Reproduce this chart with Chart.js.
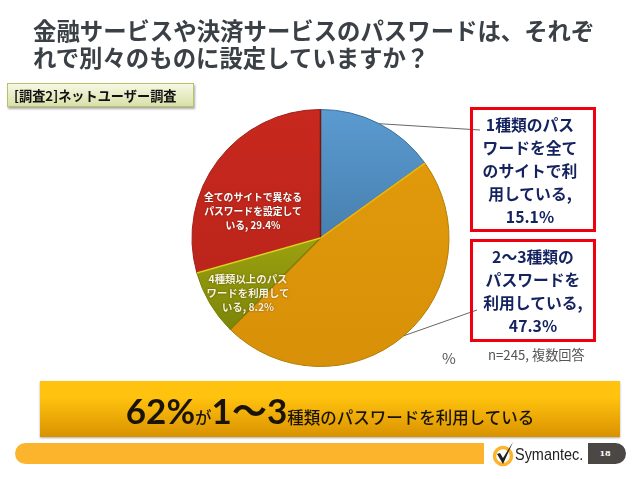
<!DOCTYPE html>
<html lang="ja">
<head>
<meta charset="utf-8">
<title>パスワード調査</title>
<script src="https://cdn.jsdelivr.net/npm/chart.js@4/dist/chart.umd.min.js"></script>
<style>
  html, body { margin: 0; padding: 0; background: #fff; }
  body { position: relative; width: 640px; height: 479px; overflow: hidden;
         font-family: "Noto Sans CJK JP", "Noto Sans", sans-serif; }
  #chart { position: absolute; left: 0; top: 0; }
  .abs { position: absolute; white-space: pre; }
  #title { left: 33px; top: 17px; font-size: 23.4px; line-height: 27px; color: #3a4046; font-weight: 700; }
  #tag { left: 7px; top: 83px; width: 187px; height: 24px; line-height: 23px; box-sizing: border-box; padding-left: 6px;
         font-size: 13.2px; font-weight: 700; color: #111; border: 1px solid #b9c26a;
         background: linear-gradient(#f7f8e4, #d9e0a8); box-shadow: 1px 2px 2px #aaa; }
  .callout { box-sizing: border-box; border: 3px solid #f0000f; text-align: center;
             color: #14235f; font-weight: 700; font-size: 15.8px; line-height: 23px; left: 470px; width: 126px; }
  #callout0 { top: 107px; height: 125px; padding-top: 3px; padding-right: 6px; }
  #callout1 { top: 239px; height: 103px; padding-top: 3px; }
  .inner { text-align: center; color: #fff; font-weight: 700; font-size: 9.8px; line-height: 14px; text-shadow: 0 0 2px rgba(60,30,0,.6); }
  #inner3 { left: 193px; width: 120px; top: 190px; }
  #inner2 { left: 188px; width: 120px; top: 272px; color: #f6f4dc; font-size: 10.4px; }
  #unit { left: 442px; top: 347px; font-size: 15px; color: #555; }
  #note { left: 488px; top: 345px; font-size: 13.2px; color: #555; }
  #banner { left: 40px; top: 381px; width: 580px; height: 56px; text-align: center; line-height: 58px;
            background: linear-gradient(#ffc20e 30%, #d99200); box-shadow: 0 1px 2px #aaa; color: #1a1408; font-size: 16.5px; font-weight: 500; }
  #banner b { font-size: 35px; font-weight: 700; font-family: Lato, "Noto Sans CJK JP", sans-serif; }
  #bar { left: 15px; top: 443px; width: 469px; height: 21px; background: #fbb42c; border-radius: 11px 0 0 11px; }
  #logo { left: 492px; top: 441px; }
  #brand { left: 515px; top: 445px; font-size: 17px; line-height: 20px; color: #222; font-family: "Liberation Sans Narrow", "Liberation Sans", sans-serif; transform: scaleX(.85); transform-origin: left; }
  #page { left: 588px; top: 443px; width: 38px; height: 21px; line-height: 21px; background: #4a4745; color: #fff; text-align: center;
          border-radius: 0 11px 11px 0; font-size: 8px; font-weight: 700; font-family: "DejaVu Serif", serif; padding-right: 4px; box-sizing: border-box; }
</style>
</head>
<body>
<canvas id="chart" width="640" height="479"></canvas>
<div id="title" class="abs">金融サービスや決済サービスのパスワードは、それぞ
れで別々のものに設定していますか？</div>
<div id="tag" class="abs">[調査2]ネットユーザー調査</div>
<div id="callout0" class="abs callout"></div>
<div id="callout1" class="abs callout"></div>
<div id="inner2" class="abs inner"></div>
<div id="inner3" class="abs inner"></div>
<div id="unit" class="abs">%</div>
<div id="note" class="abs">n=245, 複数回答</div>
<div id="banner" class="abs"><b>62%</b>が<b>1～3</b>種類のパスワードを利用している</div>
<div id="bar" class="abs"></div>
<svg id="logo" class="abs" width="26" height="26" viewBox="0 0 26 26">
  <circle cx="11" cy="15" r="8.5" fill="none" stroke="#fbb42c" stroke-width="3.5"/>
  <path d="M5 13 L8 12 L11 17 L21 1 L11 23 Z" fill="#222"/>
</svg>
<div id="brand" class="abs">Symantec.</div>
<div id="page" class="abs">18</div>
<script>
// 回答の内訳（改行は元の図の折り返し位置）
const categories = [
  '1種類のパス\nワードを全て\nのサイトで利\n用している',
  '2～3種類の\nパスワードを\n利用している',
  '4種類以上のパス\nワードを利用して\nいる',
  '全てのサイトで異なる\nパスワードを設定して\nいる'
];
const values = [15.1, 47.3, 8.2, 29.4];
const valueSeparators = [',\n', ',\n', ', ', ', '];
const topColors = ['#5b9bd0', '#e39c0c', '#c8c818', '#c8281e'];
const bottomColors = ['#33648f', '#d89008', '#6f7a06', '#b5231a'];
const rimColors = ['#3d6f9c', '#b27d06', '#7a8407', '#a02018'];
const startEdgeColors = ['#6e1a14', '#f5b800', '#8a7a06', '#d6d820'];

// 各テキスト要素に「項目, 値%」を入れる
const labelText = (i) => categories[i] + valueSeparators[i] + values[i].toFixed(1) + '%';
document.getElementById('callout0').textContent = labelText(0);
document.getElementById('callout1').textContent = labelText(1);
document.getElementById('inner2').textContent = labelText(2);
document.getElementById('inner3').textContent = labelText(3);

// 扇形の境界のハイライトと、吹き出しへの引き出し線
const leaderEnds = { 0: { x: 480, y: 130 }, 1: { x: 477, y: 310 } };
const pieExtras = {
  id: 'pieExtras',
  afterDatasetsDraw(chart) {
    const { ctx } = chart;
    const arcs = chart.getDatasetMeta(0).data;
    ctx.save();
    ctx.lineWidth = 1.5;
    arcs.forEach((a, i) => {
      ctx.strokeStyle = startEdgeColors[i];
      ctx.beginPath();
      ctx.moveTo(a.x, a.y);
      ctx.lineTo(a.x + Math.cos(a.startAngle) * a.outerRadius, a.y + Math.sin(a.startAngle) * a.outerRadius);
      ctx.stroke();
    });
    ctx.strokeStyle = '#666';
    ctx.lineWidth = 1;
    Object.keys(leaderEnds).forEach((i) => {
      const a = arcs[i];
      const mid = (a.startAngle + a.endAngle) / 2;
      ctx.beginPath();
      ctx.moveTo(a.x + Math.cos(mid) * a.outerRadius, a.y + Math.sin(mid) * a.outerRadius);
      ctx.lineTo(leaderEnds[i].x, leaderEnds[i].y);
      ctx.stroke();
    });
    ctx.restore();
  }
};

new Chart(document.getElementById('chart'), {
  type: 'pie',
  data: {
    labels: categories,
    datasets: [{
      data: values,
      backgroundColor(c) {
        const { chartArea, ctx } = c.chart;
        if (!chartArea) return topColors[c.dataIndex];
        const g = ctx.createLinearGradient(0, chartArea.top, 0, chartArea.bottom);
        g.addColorStop(0, topColors[c.dataIndex]);
        g.addColorStop(1, bottomColors[c.dataIndex]);
        return g;
      },
      borderColor: rimColors,
      borderWidth: 1
    }]
  },
  options: {
    responsive: false,
    animation: false,
    layout: { padding: { left: 191, right: 190, top: 109, bottom: 112 } },
    plugins: { legend: { display: false }, tooltip: { enabled: false } }
  },
  plugins: [pieExtras]
});
</script>
</body>
</html>
